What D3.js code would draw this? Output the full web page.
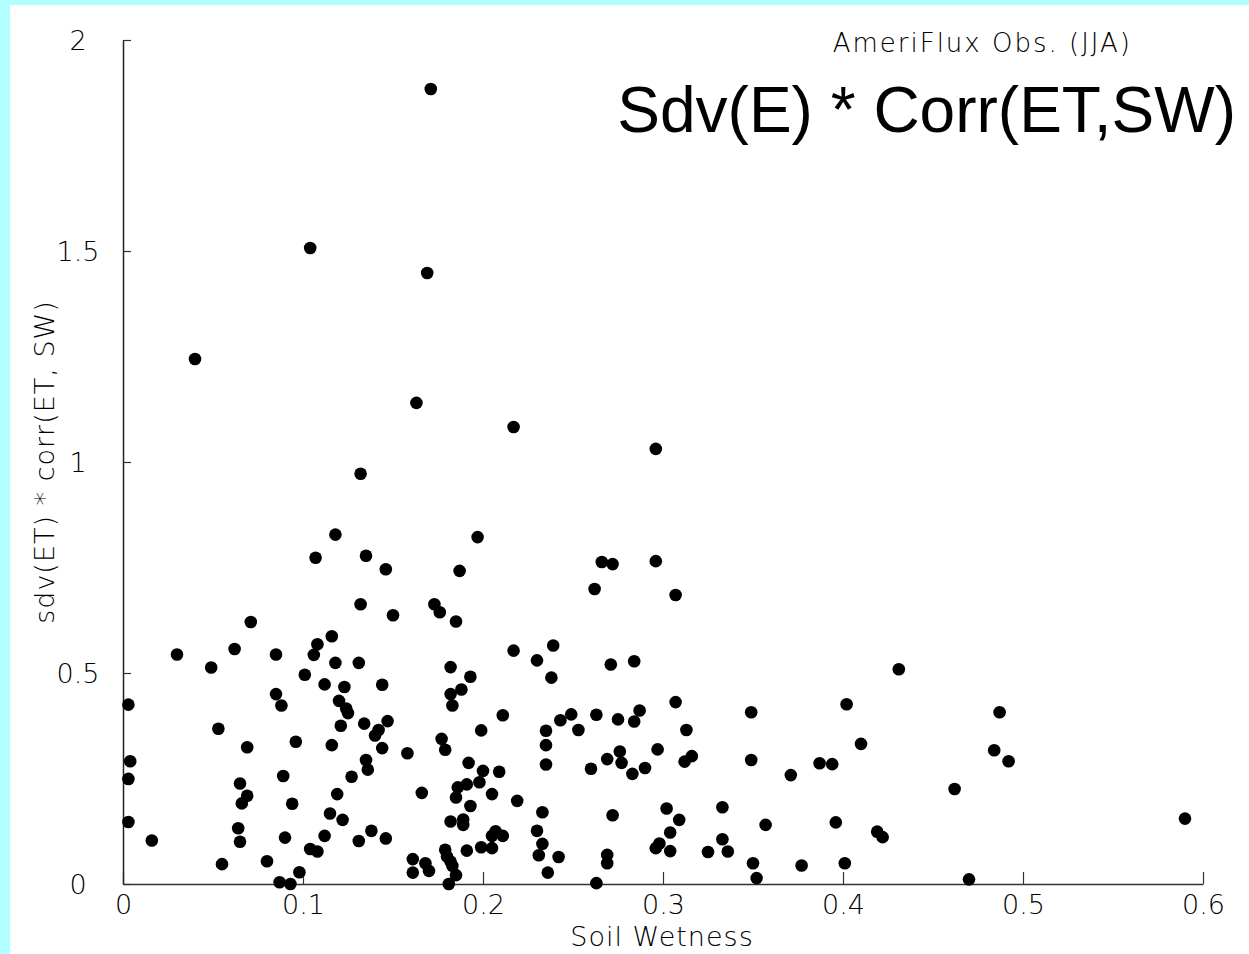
<!DOCTYPE html>
<html>
<head>
<meta charset="utf-8">
<script src="https://cdn.jsdelivr.net/npm/d3@7"></script>
<style>
  html, body { margin: 0; padding: 0; background: #b2ffff; }
  svg { display: block; }
  .tick text, .lbl { font-family: "DejaVu Sans", sans-serif; font-stretch: condensed; font-weight: 300; }
</style>
</head>
<body>
<svg id="chart" width="1249" height="954"></svg>
<script>
// Site-level soil wetness (JJA) and sdv(ET) * corr(ET, SW)
const soilWetness = [
  0.171, 0.104, 0.169, 0.040, 0.163, 0.217, 0.296, 0.132,
  0.118, 0.107, 0.135, 0.146, 0.132, 0.150, 0.173, 0.176, 0.071, 0.030,
  0.062, 0.049, 0.085, 0.116, 0.108, 0.106, 0.118, 0.131, 0.101, 0.112,
  0.123, 0.144, 0.003, 0.085, 0.088, 0.120, 0.124, 0.125, 0.121, 0.134,
  0.147, 0.142, 0.140, 0.053, 0.069, 0.096, 0.116, 0.144, 0.158, 0.177,
  0.179, 0.004, 0.003, 0.135, 0.136, 0.127, 0.089, 0.065, 0.069, 0.066,
  0.094, 0.119, 0.166, 0.115, 0.122, 0.003, 0.064, 0.065, 0.090, 0.112,
  0.138, 0.131, 0.146, 0.016, 0.104, 0.108, 0.055, 0.080, 0.098, 0.087,
  0.093, 0.161, 0.161, 0.168, 0.170,
  0.197, 0.187, 0.185, 0.217, 0.230, 0.239, 0.238, 0.182, 0.193, 0.188,
  0.182, 0.183, 0.211, 0.199, 0.192, 0.200, 0.209, 0.198, 0.191, 0.186,
  0.185, 0.205, 0.219, 0.193, 0.182, 0.189, 0.189, 0.207, 0.205, 0.211,
  0.199, 0.205, 0.191, 0.179, 0.180, 0.182, 0.183, 0.185, 0.181,
  0.233, 0.230, 0.233, 0.231, 0.242, 0.236, 0.235, 0.235, 0.235, 0.243,
  0.249, 0.253, 0.263, 0.260, 0.269, 0.276, 0.277, 0.283, 0.290, 0.297,
  0.275, 0.284, 0.287, 0.307, 0.313, 0.312, 0.316, 0.271, 0.284, 0.262,
  0.266, 0.272, 0.296, 0.307, 0.349, 0.349, 0.371, 0.302, 0.309, 0.304,
  0.298, 0.296, 0.304, 0.272, 0.269, 0.269, 0.263, 0.333, 0.333, 0.336,
  0.325, 0.357, 0.350, 0.352, 0.377,
  0.431, 0.402, 0.487, 0.410, 0.484, 0.492, 0.387, 0.394, 0.462, 0.396,
  0.590, 0.419, 0.422, 0.401, 0.470
];
const sdvCorr = [
  1.884, 1.507, 1.448, 1.244, 1.140, 1.083, 1.031, 0.972,
  0.828, 0.773, 0.778, 0.746, 0.663, 0.637, 0.663, 0.644, 0.621, 0.544,
  0.557, 0.513, 0.544, 0.587, 0.568, 0.543, 0.524, 0.524, 0.496, 0.473,
  0.467, 0.472, 0.425, 0.450, 0.423, 0.434, 0.416, 0.405, 0.375, 0.380,
  0.386, 0.365, 0.352, 0.368, 0.324, 0.337, 0.329, 0.322, 0.310, 0.344,
  0.318, 0.291, 0.249, 0.294, 0.271, 0.254, 0.256, 0.238, 0.209, 0.191,
  0.190, 0.213, 0.216, 0.167, 0.152, 0.147, 0.132, 0.100, 0.110, 0.114,
  0.126, 0.102, 0.108, 0.103, 0.083, 0.077, 0.047, 0.054, 0.028, 0.004,
  0.000, 0.059, 0.027, 0.049, 0.031,
  0.822, 0.742, 0.622, 0.553, 0.530, 0.565, 0.489, 0.514, 0.491, 0.461,
  0.450, 0.423, 0.400, 0.364, 0.287, 0.268, 0.266, 0.241, 0.236, 0.229,
  0.205, 0.213, 0.197, 0.185, 0.148, 0.153, 0.140, 0.125, 0.114, 0.114,
  0.087, 0.085, 0.079, 0.081, 0.065, 0.053, 0.043, 0.021, 0.000,
  0.170, 0.126, 0.095, 0.068, 0.064, 0.027, 0.363, 0.329, 0.283, 0.388,
  0.402, 0.365, 0.401, 0.273, 0.296, 0.314, 0.287, 0.261, 0.275, 0.319,
  0.390, 0.385, 0.411, 0.431, 0.365, 0.290, 0.303, 0.520, 0.528, 0.699,
  0.763, 0.758, 0.765, 0.685, 0.407, 0.294, 0.258, 0.179, 0.152, 0.122,
  0.096, 0.085, 0.078, 0.163, 0.069, 0.049, 0.002, 0.182, 0.106, 0.077,
  0.076, 0.140, 0.049, 0.014, 0.044,
  0.509, 0.426, 0.407, 0.332, 0.317, 0.291, 0.286, 0.284, 0.225, 0.146,
  0.155, 0.124, 0.111, 0.049, 0.011
];
const xTicks = [0, 0.1, 0.2, 0.3, 0.4, 0.5, 0.6];
const xTickLabels = ["0", "0.1", "0.2", "0.3", "0.4", "0.5", "0.6"];
const yTicks = [0, 0.5, 1, 1.5, 2];
const yTickLabels = ["0", "0.5", "1", "1.5", "2"];

const svg = d3.select("#chart");

// white plotting page over the cyan frame
svg.append("rect").attr("x", 10).attr("y", 5).attr("width", 1239).attr("height", 949).attr("fill", "#ffffff");

const x = d3.scaleLinear().domain([0, 0.6]).range([123, 1203]);
const y = d3.scaleLinear().domain([0, 2]).range([884, 40]);

// x axis (ticks point up into the plot)
const xAxis = svg.append("g")
  .attr("transform", `translate(0,${y(0)})`)
  .call(d3.axisBottom(x).tickValues(xTicks)
    .tickFormat((d, i) => xTickLabels[i])
    .tickSizeInner(-12).tickSizeOuter(0).tickPadding(11));
xAxis.select(".domain").attr("stroke", "#333").attr("stroke-width", 1.5);
xAxis.selectAll(".tick line").attr("stroke", "#333").attr("stroke-width", 1.2);
xAxis.selectAll(".tick text").attr("font-size", 27).attr("fill", "#000");

// y axis (ticks point right into the plot)
const yAxis = svg.append("g")
  .attr("transform", `translate(${x(0)},0)`)
  .call(d3.axisLeft(y).tickValues(yTicks)
    .tickFormat((d, i) => yTickLabels[i])
    .tickSizeInner(-8).tickSizeOuter(0));
yAxis.select(".domain").attr("stroke", "#222").attr("stroke-width", 1.5);
yAxis.selectAll(".tick line").attr("stroke", "#333").attr("stroke-width", 1.2);
yAxis.selectAll(".tick text")
  .attr("font-size", 27).attr("fill", "#000")
  .attr("text-anchor", "middle").attr("x", -45).attr("dy", "0.35em");

// points
svg.append("g").selectAll("circle")
  .data(d3.zip(soilWetness, sdvCorr))
  .join("circle")
  .attr("cx", d => x(d[0]))
  .attr("cy", d => y(d[1]))
  .attr("r", 6.3)
  .attr("fill", "#000");

// axis titles
svg.append("text").attr("class", "lbl")
  .attr("x", 662).attr("y", 946).attr("text-anchor", "middle")
  .attr("font-size", 27).attr("fill", "#000").attr("letter-spacing", 1)
  .text("Soil Wetness");

svg.append("text").attr("class", "lbl")
  .attr("transform", "translate(54,462) rotate(-90)")
  .attr("text-anchor", "middle")
  .attr("font-size", 27).attr("fill", "#000").attr("letter-spacing", 1)
  .text("sdv(ET) * corr(ET, SW)");

// titles
svg.append("text").attr("class", "lbl")
  .attr("x", 1132).attr("y", 52).attr("text-anchor", "end")
  .attr("font-size", 26).attr("fill", "#000").attr("letter-spacing", 2)
  .text("AmeriFlux Obs. (JJA)");

svg.append("text")
  .attr("x", 1236).attr("y", 132).attr("text-anchor", "end")
  .attr("font-family", "Liberation Sans, Arial, sans-serif")
  .attr("font-size", 64).attr("fill", "#000")
  .text("Sdv(E) * Corr(ET,SW)");
</script>
</body>
</html>
